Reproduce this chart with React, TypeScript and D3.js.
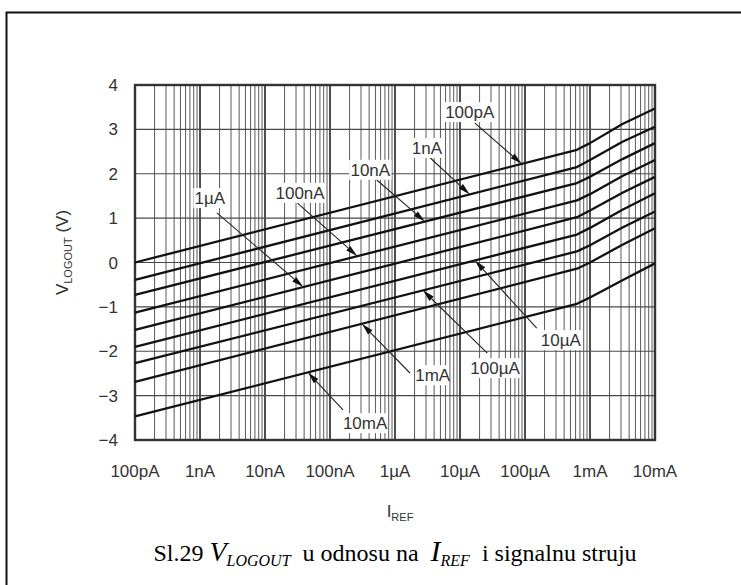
import React from "react";
import * as d3 from "d3";

const iRef = [1e-10, 6.3e-4, 1e-3, 3.16e-3, 1e-2];

// V_LOGOUT (V) for each signal current, top curve to bottom curve
const v100pA = [0.0, 2.54, 2.69, 3.12, 3.47];
const v1nA = [-0.39, 2.15, 2.31, 2.72, 3.06];
const v10nA = [-0.73, 1.79, 1.93, 2.33, 2.69];
const v100nA = [-1.13, 1.4, 1.54, 1.95, 2.31];
const v1uA = [-1.52, 1.02, 1.17, 1.57, 1.93];
const v10uA = [-1.9, 0.63, 0.78, 1.19, 1.56];
const v100uA = [-2.27, 0.25, 0.39, 0.79, 1.15];
const v1mA = [-2.69, -0.14, 0.0, 0.4, 0.77];
const v10mA = [-3.47, -0.93, -0.79, -0.4, -0.02];

const series = [v100pA, v1nA, v10nA, v100nA, v1uA, v10uA, v100uA, v1mA, v10mA];
const seriesNames = ["100pA", "1nA", "10nA", "100nA", "1\u00b5A", "10\u00b5A", "100\u00b5A", "1mA", "10mA"];

const xTicks = [1e-10, 1e-9, 1e-8, 1e-7, 1e-6, 1e-5, 1e-4, 1e-3, 1e-2];
const xTickLabels = ["100pA", "1nA", "10nA", "100nA", "1\u00b5A", "10\u00b5A", "100\u00b5A", "1mA", "10mA"];
const yTicks = [4, 3, 2, 1, 0, -1, -2, -3, -4];

// callouts: arrow tip x on the curve, tail point and label centre (log10 I, V)
const callouts = [
  { s: 0, tip: -4.05, tail: [-4.77, 3.14], text: [-4.85, 3.39] },
  { s: 1, tip: -4.85, tail: [-5.46, 2.36], text: [-5.51, 2.58] },
  { s: 2, tip: -5.54, tail: [-6.28, 1.86], text: [-6.38, 2.09] },
  { s: 3, tip: -6.58, tail: [-7.5, 1.34], text: [-7.46, 1.57] },
  { s: 4, tip: -7.41, tail: [-8.74, 1.12], text: [-8.85, 1.45] },
  { s: 5, tip: -4.77, tail: [-3.82, -1.48], text: [-3.45, -1.75] },
  { s: 6, tip: -5.57, tail: [-4.58, -2.04], text: [-4.46, -2.38] },
  { s: 7, tip: -6.51, tail: [-5.77, -2.49], text: [-5.42, -2.54] },
  { s: 8, tip: -7.34, tail: [-6.8, -3.32], text: [-6.46, -3.62] },
];

const W = 741, H = 585;
const left = 135, right = 655, top = 85, bottom = 440;

const x = d3.scaleLog().domain([1e-10, 1e-2]).range([left, right]);
const y = d3.scaleLinear().domain([-4, 4]).range([bottom, top]);

const sans = "'Liberation Sans', Arial, Helvetica, sans-serif";
const serif = "'Liberation Serif', 'Times New Roman', serif";

function valueAt(s: number, lg: number) {
  const lx = iRef.map((d) => Math.log10(d));
  return d3.scaleLinear().domain(lx).range(series[s])(lg);
}

export default function App() {
  const line = d3
    .line<number>()
    .x((_, i) => x(iRef[i]))
    .y((d) => y(d));

  const minor: number[] = [];
  for (let d = -10; d < -2; d++) for (let m = 2; m <= 9; m++) minor.push(m * Math.pow(10, d));

  return (
    <svg width={W} height={H} style={{ position: "absolute", left: 0, top: 0, background: "#fff" }}>
      <rect x={6.5} y={12.5} width={760} height={600} fill="none" stroke="#111" strokeWidth={2} />

      {/* grid */}
      {minor.map((t, i) => (
        <line key={"m" + i} x1={x(t)} x2={x(t)} y1={top} y2={bottom} stroke="#5a5a5a" strokeWidth={1} />
      ))}
      {xTicks.map((t, i) => (
        <line key={"d" + i} x1={x(t)} x2={x(t)} y1={top} y2={bottom} stroke="#3a3a3a" strokeWidth={1.8} />
      ))}
      {yTicks.map((t) => (
        <line key={"h" + t} x1={left} x2={right} y1={y(t)} y2={y(t)} stroke="#4a4a4a" strokeWidth={1.2} />
      ))}
      <rect x={left} y={top} width={right - left} height={bottom - top} fill="none" stroke="#333" strokeWidth={2.4} />

      {/* curves */}
      {series.map((s, i) => (
        <path key={"c" + i} d={line(s) || ""} fill="none" stroke="#111" strokeWidth={2.3} strokeLinejoin="round" />
      ))}

      {/* callouts */}
      {callouts.map((c, i) => {
        const tx = x(Math.pow(10, c.tip));
        const ty = y(valueAt(c.s, c.tip));
        const sx = x(Math.pow(10, c.tail[0]));
        const sy = y(c.tail[1]);
        const ang = Math.atan2(ty - sy, tx - sx);
        const len = 12, hw = 3;
        const bx = tx - len * Math.cos(ang), by = ty - len * Math.sin(ang);
        const pts = [
          [tx, ty],
          [bx + hw * Math.sin(ang), by - hw * Math.cos(ang)],
          [bx - hw * Math.sin(ang), by + hw * Math.cos(ang)],
        ];
        const lx = x(Math.pow(10, c.text[0]));
        const ly = y(c.text[1]);
        const name = seriesNames[c.s];
        const w = name.length * 9.6 + 4;
        return (
          <g key={"a" + i}>
            <line x1={sx} y1={sy} x2={bx} y2={by} stroke="#222" strokeWidth={1.1} />
            <polygon points={pts.map((p) => p.join(",")).join(" ")} fill="#111" />
            <rect x={lx - w / 2} y={ly - 10} width={w} height={20} fill="#fff" />
            <text x={lx} y={ly} dy="0.36em" textAnchor="middle" fontFamily={sans} fontSize={17} fill="#333">
              {name}
            </text>
          </g>
        );
      })}

      {/* axes labels */}
      {yTicks.map((t) => (
        <text key={"yt" + t} x={118} y={y(t)} dy="0.36em" textAnchor="end" fontFamily={sans} fontSize={17} fill="#333">
          {t < 0 ? "\u2212" + Math.abs(t) : String(t)}
        </text>
      ))}
      {xTicks.map((t, i) => (
        <text key={"xt" + i} x={x(t)} y={477} textAnchor="middle" fontFamily={sans} fontSize={17} fill="#333">
          {xTickLabels[i]}
        </text>
      ))}
      <text x={400} y={517} textAnchor="middle" fontFamily={sans} fontSize={17} fill="#333">
        <tspan>I</tspan>
        <tspan fontSize={11} dy={4}>REF</tspan>
      </text>
      <text transform={`translate(68,${(top + bottom) / 2 - 10}) rotate(-90)`} textAnchor="middle" fontFamily={sans} fontSize={17} fill="#333">
        <tspan>V</tspan>
        <tspan fontSize={11} dy={4}>LOGOUT</tspan>
        <tspan dy={-4}> (V)</tspan>
      </text>

      {/* caption */}
      <text x={395} y={561} textAnchor="middle" fontFamily={serif} fontSize={24} fill="#000" style={{ whiteSpace: "pre" }}>
        <tspan>Sl.29 </tspan>
        <tspan fontStyle="italic" fontSize={28}>V</tspan>
        <tspan fontStyle="italic" fontSize={16} dy={5}>LOGOUT</tspan>
        <tspan dy={-5}>{"  u odnosu na  "}</tspan>
        <tspan fontStyle="italic" fontSize={30}>I</tspan>
        <tspan fontStyle="italic" fontSize={16} dy={5}>REF</tspan>
        <tspan dy={-5}>{"  i signalnu struju"}</tspan>
      </text>
    </svg>
  );
}
